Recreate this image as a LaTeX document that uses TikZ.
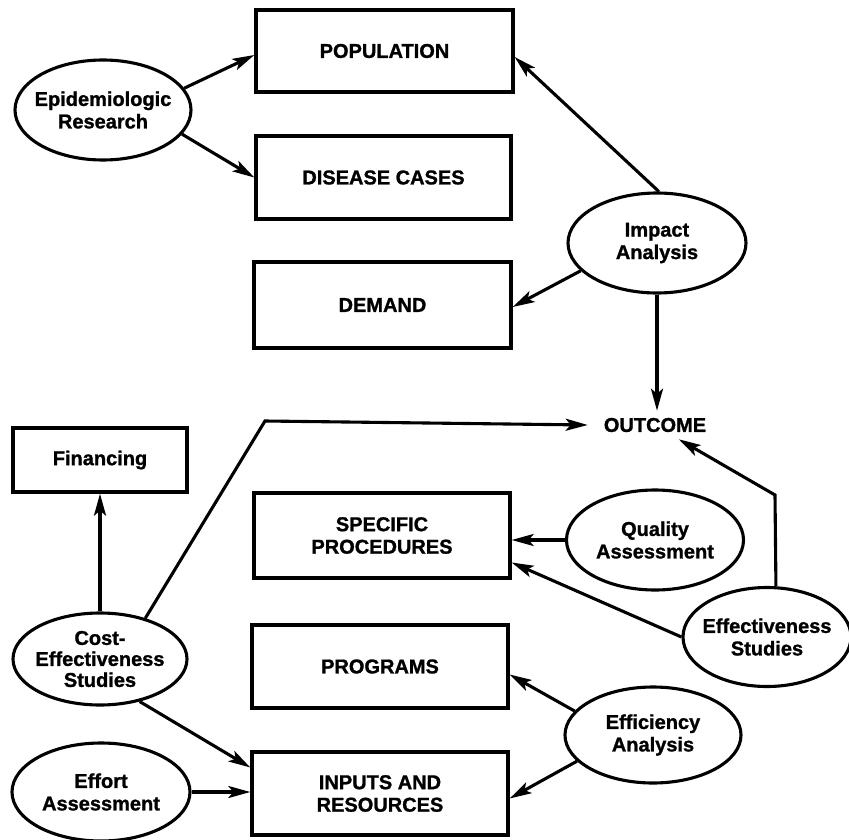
\documentclass[tikz,border=0pt]{standalone}
\usepackage{fontspec}
\setmainfont[BoldFeatures={FakeBold=1.2}]{Liberation Sans}
\usetikzlibrary{shapes.geometric,arrows.meta}

\tikzset{
  lbl/.style={font=\fontsize{20}{22.5}\selectfont\bfseries, align=center, inner sep=0pt},
  boxnode/.style={draw, line width=3.3pt, rectangle, inner sep=0pt, lbl},
  ovalnode/.style={draw, line width=3.1pt, ellipse, inner sep=0pt},
  link/.style={line width=3.1pt, -{Stealth[length=22pt,width=12pt,inset=5pt]}},
}

\begin{document}
\begin{tikzpicture}[x=1pt,y=-1pt]
\useasboundingbox (0,0) rectangle (849,840);

% rectangular boxes
\node[boxnode, minimum width=257pt, minimum height=82pt] (pop)  at (384.5,51)    {POPULATION};
\node[boxnode, minimum width=255pt, minimum height=83pt] (dis)  at (383.5,177.5) {DISEASE CASES};
\node[boxnode, minimum width=257pt, minimum height=86pt] (dem)  at (382.5,305)   {DEMAND};
\node[boxnode, minimum width=256pt, minimum height=85pt] (spec) at (382,535.5)   {SPECIFIC\\PROCEDURES};
\node[boxnode, minimum width=256pt, minimum height=83pt] (prog) at (380,666.5)   {PROGRAMS};
\node[boxnode, minimum width=256pt, minimum height=83pt] (inp)  at (380,793.5)   {INPUTS AND\\RESOURCES};
\node[boxnode, minimum width=174pt, minimum height=64pt] (fin)  at (100,460)     {Financing};

% oval nodes
\node[ovalnode, minimum width=176pt, minimum height=100pt] (epi)    at (103,110) {};
\node[ovalnode, minimum width=178pt, minimum height=100pt] (imp)    at (657,243) {};
\node[ovalnode, minimum width=177pt, minimum height=100pt] (qual)   at (655,540) {};
\node[ovalnode, minimum width=168pt, minimum height=99pt]  (eff)    at (767,637) {};
\node[ovalnode, minimum width=176pt, minimum height=96pt]  (effi)   at (653,735) {};
\node[ovalnode, minimum width=174pt, minimum height=92pt]  (cost)   at (100,659) {};
\node[ovalnode, minimum width=178pt, minimum height=98pt]  (effort) at (101,792) {};

\node[lbl] at (epi)    {Epidemiologic\\Research};
\node[lbl] at (imp)    {Impact\\Analysis};
\node[lbl] at (qual)   {Quality\\Assessment};
\node[lbl] at (eff)    {Effectiveness\\Studies};
\node[lbl] at (effi)   {Efficiency\\Analysis};
\node[lbl, font=\fontsize{20}{21}\selectfont\bfseries] at (cost) {Cost-\\Effectiveness\\Studies};
\node[lbl] at (effort) {Effort\\Assessment};

% free-standing label
\node[lbl, inner xsep=16pt, inner ysep=7pt] (out) at (655,425) {OUTCOME};

% bend points
\coordinate (costbend) at (265,421);
\coordinate (effbend)  at (775,495);

% connectors
\draw[link] (epi.15)  -- ([yshift=-4pt]pop.west);
\draw[link] (epi.-17) -- (dis.west);
\draw[link] (imp.88)  -- ([yshift=-6pt]pop.east);
\draw[link] (imp.200) -- ([yshift=-2pt]dem.east);
\draw[link] (imp.south) -- (imp.south |- out.north);

\draw[link] (cost.42) -- (costbend) -- (out.west);
\draw[link] (cost.north) -- (fin.south);
\draw[link] (cost.-47) -- ([yshift=26pt]inp.west);
\draw[link] (effort.east) -- (effort.east -| inp.west);

\draw[link] (qual.west) -- (qual.west -| spec.east);
\draw[link] (eff.west) -- ([yshift=-27pt]spec.east);
\draw[link] (eff.80) -- (effbend) -- (out.-31);

\draw[link] (effi.163) -- ([yshift=-8pt]prog.east);
\draw[link] (effi.199) -- ([yshift=-5pt]inp.east);
\end{tikzpicture}
\end{document}
